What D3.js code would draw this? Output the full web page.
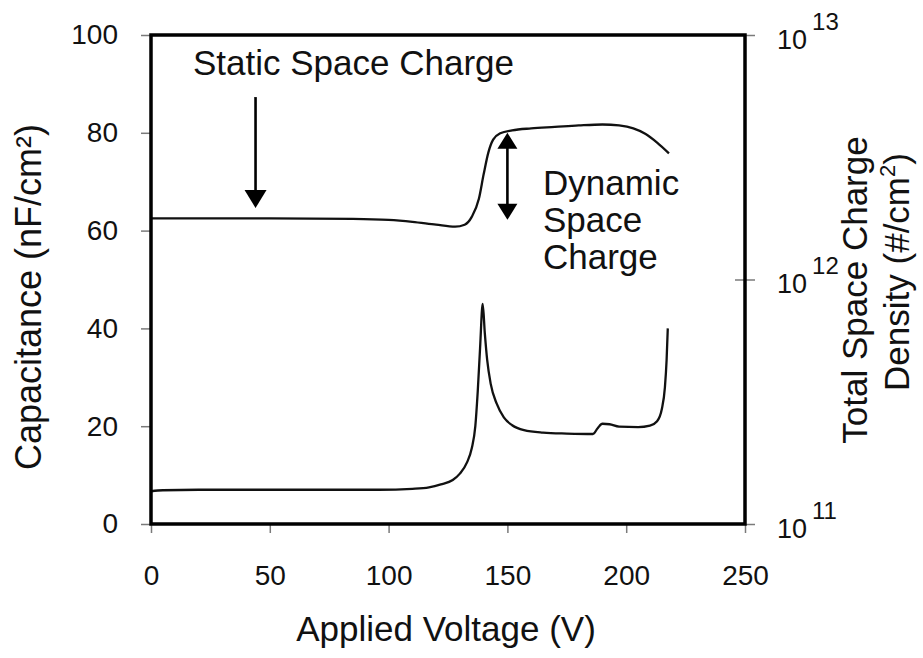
<!DOCTYPE html>
<html>
<head>
<meta charset="utf-8">
<script src="https://cdn.jsdelivr.net/npm/d3@7"></script>
<style>
  html, body { margin: 0; padding: 0; background: #fff; }
  svg { display: block; font-family: "Liberation Sans", Arial, Helvetica, sans-serif; }
</style>
</head>
<body>
<svg id="chart" width="923" height="658"></svg>
<script>
// Applied voltage sweep (V) and total space charge density (#/cm²), right log axis
const densityVoltage = [0, 20, 50, 85, 100, 110, 120, 128, 132, 135, 138, 140, 142, 144, 147, 152, 160, 170, 180, 190, 197, 203, 208, 213, 218];
const densityValues = [1.778e12, 1.778e12, 1.778e12, 1.770e12, 1.754e12, 1.722e12, 1.675e12, 1.644e12, 1.675e12, 1.803e12,
  2.138e12, 2.692e12, 3.311e12, 3.733e12, 3.963e12, 4.074e12, 4.150e12, 4.207e12, 4.266e12, 4.305e12,
  4.266e12, 4.150e12, 3.945e12, 3.631e12, 3.281e12];

// Capacitance (nF/cm²), left axis
const capVoltage = [0, 5, 20, 60, 96, 110, 117, 122, 127, 130, 133, 135, 136.5, 137.5, 138.5, 139.6, 140.5, 141.5, 143, 145.5,
  148.5, 152, 157, 165, 175, 186, 188, 190, 193, 197, 205, 210, 213, 215, 216.3, 217, 217.5];
const capValues = [6.7, 6.9, 7.0, 7.0, 7.0, 7.2, 7.5, 8.1, 9.0, 10.3, 12.6, 15.5, 20, 27, 36, 45, 39, 33.5, 28.6, 24.6,
  21.8, 20.2, 19.2, 18.7, 18.5, 18.4, 19.6, 20.5, 20.4, 19.9, 19.8, 20.1, 21.0, 23.5, 28, 33.5, 40];

// Axis ticks
const xTicks = [0, 50, 100, 150, 200, 250];
const yLeftTicks = [0, 20, 40, 60, 80, 100];
const yRightTicks = [1e11, 1e12, 1e13];

const svg = d3.select("#chart");
const plotLeft = 151, plotRight = 745, plotTop = 35, plotBottom = 524;

const x = d3.scaleLinear().domain([0, 250]).range([plotLeft, plotRight]);
const yL = d3.scaleLinear().domain([0, 100]).range([plotBottom, plotTop]);
const yR = d3.scaleLog().domain([1e11, 1e13]).range([plotBottom, plotTop]);

const tickColor = "#7a7a7a";
const tickFont = 28;

// Bottom axis
const gx = svg.append("g")
  .attr("transform", `translate(0,${plotBottom})`)
  .call(d3.axisBottom(x).tickValues(xTicks).tickSize(9).tickPadding(32).tickFormat(d3.format("d")));

// Left axis
const gy = svg.append("g")
  .attr("transform", `translate(${plotLeft},0)`)
  .call(d3.axisLeft(yL).tickValues(yLeftTicks).tickSize(10).tickPadding(23).tickFormat(d3.format("d")));

// Right axis (log), labels written as 10 with a raised exponent
const gr = svg.append("g")
  .attr("transform", `translate(${plotRight},0)`)
  .call(d3.axisRight(yR).tickValues(yRightTicks).tickSize(10).tickPadding(22).tickFormat(() => ""));

[gx, gy, gr].forEach(g => {
  g.select(".domain").remove();
  g.selectAll(".tick line").attr("stroke", tickColor).attr("stroke-width", 1.5);
  g.selectAll(".tick text").attr("fill", "#111").attr("font-size", tickFont).attr("font-family", null);
});

gr.selectAll(".tick text")
  .attr("dy", null)
  .each(function (d) {
    const t = d3.select(this);
    t.append("tspan").attr("y", 13).attr("font-size", 27).text("10");
    t.append("tspan").attr("y", -6).attr("dx", 5).attr("font-size", 24).text(String(Math.round(Math.log10(d))));
  });

// The middle decade tick also reaches into the plot
gr.selectAll(".tick").filter(d => d === 1e12)
  .append("line").attr("x1", -10).attr("x2", 0)
  .attr("stroke", tickColor).attr("stroke-width", 1.5);

// Curves
const densityData = densityVoltage.map((v, i) => [v, densityValues[i]]);
const capData = capVoltage.map((v, i) => [v, capValues[i]]);

svg.append("path")
  .datum(densityData)
  .attr("fill", "none").attr("stroke", "#111").attr("stroke-width", 2.3)
  .attr("d", d3.line().x(d => x(d[0])).y(d => yR(d[1])).curve(d3.curveMonotoneX));

svg.append("path")
  .datum(capData)
  .attr("fill", "none").attr("stroke", "#111").attr("stroke-width", 2.3)
  .attr("d", d3.line().x(d => x(d[0])).y(d => yL(d[1])).curve(d3.curveMonotoneX));

// Plot frame
svg.append("rect")
  .attr("x", plotLeft).attr("y", plotTop)
  .attr("width", plotRight - plotLeft).attr("height", plotBottom - plotTop)
  .attr("fill", "none").attr("stroke", "#000").attr("stroke-width", 3.5);

// Annotations
function arrowHead(xp, yp, dir, w, h) {
  // dir = 1 points down, -1 points up
  return `M${xp},${yp} L${xp - w / 2},${yp - dir * h} L${xp + w / 2},${yp - dir * h} Z`;
}

// Static space charge arrow
const sx = x(44), sTop = yL(87.3), sTip = yL(64.6);
svg.append("line").attr("x1", sx).attr("x2", sx).attr("y1", sTop).attr("y2", sTip - 14)
  .attr("stroke", "#000").attr("stroke-width", 2.6);
svg.append("path").attr("d", arrowHead(sx, sTip, 1, 22, 18)).attr("fill", "#000");

// Dynamic space charge double arrow
const dX = x(150), dTop = yL(80.0), dBot = yL(62.2);
svg.append("line").attr("x1", dX).attr("x2", dX).attr("y1", dTop + 12).attr("y2", dBot - 12)
  .attr("stroke", "#000").attr("stroke-width", 2.6);
svg.append("path").attr("d", arrowHead(dX, dTop, -1, 20, 16)).attr("fill", "#000");
svg.append("path").attr("d", arrowHead(dX, dBot, 1, 20, 16)).attr("fill", "#000");

const labelFont = 35;
svg.append("text").attr("x", 193).attr("y", 75)
  .attr("font-size", labelFont).attr("fill", "#111").text("Static Space Charge");

const dyn = svg.append("text").attr("x", 543).attr("y", 195)
  .attr("font-size", labelFont).attr("fill", "#111");
["Dynamic", "Space", "Charge"].forEach((s, i) => {
  dyn.append("tspan").attr("x", 543).attr("y", 195 + i * 37).text(s);
});

// Axis titles
svg.append("text")
  .attr("x", 446).attr("y", 641)
  .attr("text-anchor", "middle").attr("font-size", labelFont).attr("fill", "#111")
  .text("Applied Voltage (V)");

svg.append("text")
  .attr("transform", "translate(41,297) rotate(-90)")
  .attr("text-anchor", "middle").attr("font-size", 36).attr("fill", "#111")
  .text("Capacitance (nF/cm²)");

svg.append("text")
  .attr("transform", "translate(867,290) rotate(-90)")
  .attr("text-anchor", "middle").attr("font-size", labelFont).attr("fill", "#111")
  .text("Total Space Charge");

const rt2 = svg.append("text")
  .attr("transform", "translate(909,272) rotate(-90)")
  .attr("text-anchor", "middle").attr("font-size", labelFont).attr("fill", "#111");
rt2.append("tspan").text("Density (#/cm");
rt2.append("tspan").attr("dy", -14).attr("font-size", 22).text("2");
rt2.append("tspan").attr("dy", 14).text(")");
</script>
</body>
</html>
